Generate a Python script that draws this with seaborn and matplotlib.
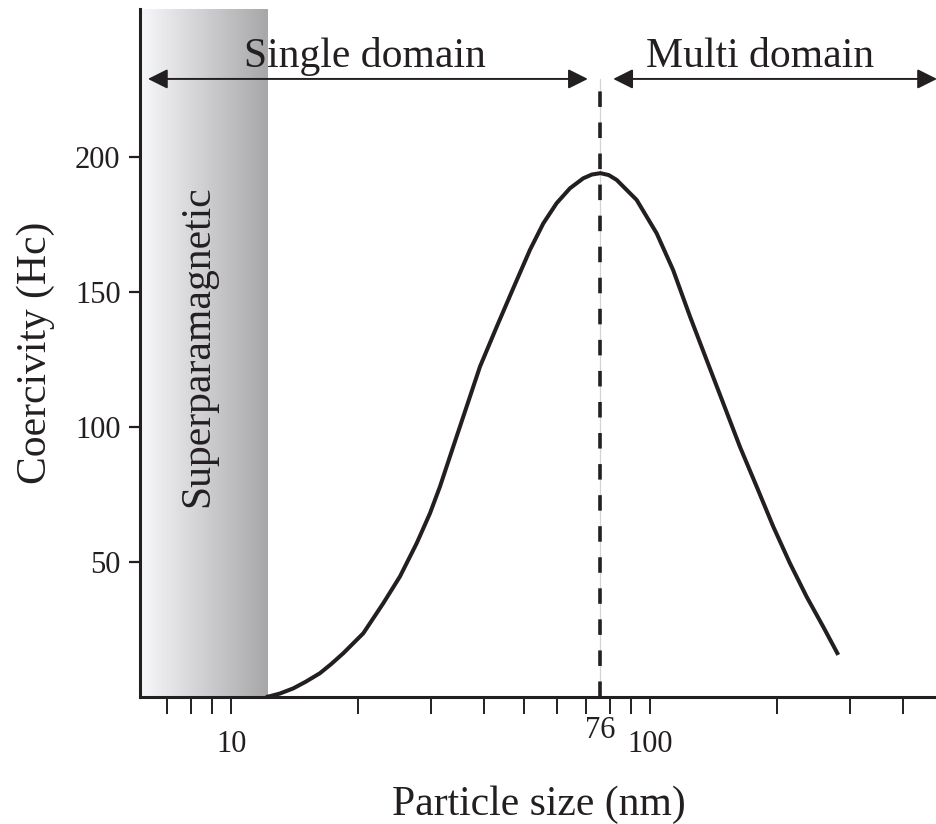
import numpy as np
import pandas as pd
import matplotlib
matplotlib.use("Agg")
import matplotlib.pyplot as plt
from matplotlib.patches import ArrowStyle
from matplotlib.ticker import FixedLocator, NullFormatter, FixedFormatter
import seaborn as sns

# Coercivity versus particle size (log scale)
size_nm = [12.09, 12.36, 13.06, 14.05, 15.06, 16.26, 17.3, 18.49, 20.64, 23.03,
           25.24, 27.67, 29.77, 31.45, 33.83, 36.41, 39.18, 42.96, 47.06,
           51.58, 55.5, 59.73, 64.26, 69.13, 72.5, 76.0, 79.5, 83.07, 92.7,
           103.5, 113.3, 124.3, 136.2, 149.2, 163.5, 179.3, 196.4, 215.3,
           236.0, 258.5, 280.7]
coercivity = [0.0, 0.3, 1.3, 3.2, 5.7, 8.8, 12.2, 16.2, 23.6, 34.7,
              44.6, 56.9, 68.0, 77.9, 92.7, 107.5, 122.3, 137.1, 151.4,
              165.6, 175.4, 182.9, 188.4, 192.1, 193.5, 194.0, 193.3, 191.5,
              184.1, 171.7, 158.1, 140.9, 124.8, 108.8, 92.7, 77.9, 63.1,
              49.5, 37.1, 26.0, 15.6]

critical_size = 76          # single/multi domain boundary (nm)
superpara_limit = 12.2      # upper size of the superparamagnetic region (nm)
x_limits = [6.05, 483]
y_limits = [0, 254.8]

y_ticks = [50, 100, 150, 200]
x_major_ticks = [10, 100]
x_minor_ticks = [7, 8, 9, 20, 30, 40, 50, 60, 70, 80, 90, 200, 300, 400]

region_labels = ["Single domain", "Multi domain", "Superparamagnetic"]
arrow_level = 228.9

ink = "#231f20"

sns.set_theme(style="ticks")
plt.rcParams["font.family"] = ["Liberation Serif", "DejaVu Serif"]

fig = plt.figure(figsize=(9.37, 8.24), dpi=100)
ax = fig.add_axes([140 / 937, 127 / 824, 797 / 937, 688 / 824])
ax.set_xscale("log")
ax.set_xlim(*x_limits)
ax.set_ylim(*y_limits)

# grey gradient band for the superparamagnetic region
edges = np.logspace(np.log10(x_limits[0]), np.log10(superpara_limit), 121)
shades = np.linspace(0.97, 0.655, len(edges) - 1)
for a, b, s in zip(edges[:-1], edges[1:], shades):
    ax.axvspan(a, b, color=(s, s, min(s * 1.01, 1.0)), lw=0, zorder=0)

# boundary line at the critical size
ax.plot([critical_size, critical_size], [0, arrow_level], color="#d4d4d4",
        lw=0.9, zorder=1)
ax.plot([critical_size, critical_size], [0, arrow_level], color=ink,
        lw=2.6, dashes=(4.3, 4.3), zorder=3)

df = pd.DataFrame({"size": size_nm, "hc": coercivity})
sns.lineplot(data=df, x="size", y="hc", ax=ax, color=ink, lw=2.9,
             estimator=None, sort=False, zorder=4,
             solid_joinstyle="round", solid_capstyle="butt")

# domain arrows
style = ArrowStyle("<|-|>", head_length=0.6, head_width=0.3)
ax.annotate("", xy=(6.32, arrow_level), xytext=(70.9, arrow_level),
            arrowprops=dict(arrowstyle=style, mutation_scale=20, lw=1.4,
                            color=ink, shrinkA=0, shrinkB=0),
            annotation_clip=False)
ax.annotate("", xy=(81.5, arrow_level), xytext=(x_limits[1], arrow_level),
            arrowprops=dict(arrowstyle=style, mutation_scale=20, lw=1.4,
                            color=ink, shrinkA=0, shrinkB=0),
            annotation_clip=False)

ax.text(20.8, 233.5, region_labels[0], ha="center", va="baseline",
        fontsize=30, color=ink)
ax.text(183, 233.5, region_labels[1], ha="center", va="baseline",
        fontsize=30, color=ink)
ax.text(8.3, 130, region_labels[2], rotation=90, ha="center", va="center",
        fontsize=30, color=ink)

# axes styling
for side in ["top", "right"]:
    ax.spines[side].set_visible(False)
for side in ["left", "bottom"]:
    ax.spines[side].set_linewidth(2.2)
    ax.spines[side].set_color(ink)

ax.set_yticks(y_ticks)
ax.set_yticklabels([str(t) for t in y_ticks])
ax.xaxis.set_major_locator(FixedLocator(x_major_ticks))
ax.xaxis.set_major_formatter(FixedFormatter([str(t) for t in x_major_ticks]))
ax.xaxis.set_minor_locator(FixedLocator(x_minor_ticks))
ax.xaxis.set_minor_formatter(NullFormatter())

ax.tick_params(axis="x", which="both", direction="out", length=12, width=1.4,
               color=ink, labelsize=22, labelcolor=ink, pad=12)
ax.tick_params(axis="y", direction="out", length=8, width=1.6, color=ink,
               labelsize=22, labelcolor=ink, pad=6)

ax.text(critical_size, -0.028, str(critical_size), transform=ax.get_xaxis_transform(),
        ha="center", va="top", fontsize=22, color=ink)

ax.set_xlabel("Particle size (nm)", fontsize=30, color=ink, labelpad=19)
ax.set_ylabel("Coercivity (Hc)", fontsize=30, color=ink, labelpad=14)
ax.grid(False)

fig.savefig("out.png", dpi=100)
